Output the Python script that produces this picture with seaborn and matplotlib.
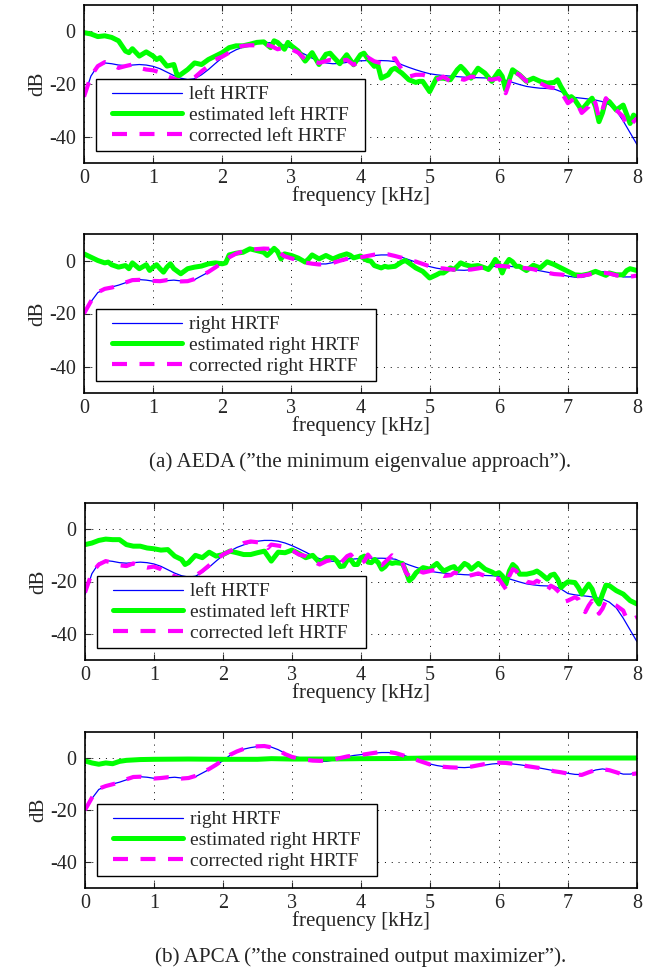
import numpy as np
import matplotlib
matplotlib.use("Agg")
import matplotlib.pyplot as plt
from matplotlib.lines import Line2D
from matplotlib.legend_handler import HandlerLine2D
import seaborn as sns

sns.set_style("ticks")
plt.rcParams["font.family"] = ["Liberation Serif", "DejaVu Serif"]
plt.rcParams["axes.unicode_minus"] = False

# ---------------------------------------------------------------- data
# true HRTFs sampled every 0.1 kHz (0 ... 8 kHz)
hrtf_freq = np.round(np.linspace(0, 8, 81), 1)

left_hrtf = [
    -25, -17, -13, -12, -12.3, -12.8, -13, -12.8, -12.6, -12.8,
    -13.3, -14.2, -15.5, -16.8, -17.8, -18.3, -18, -16.5, -14.5, -12.2,
    -10, -8.4, -7, -6, -5.2, -4.6, -4.3, -4.3, -4.6, -5.3,
    -6.3, -7.5, -8.8, -10.2, -11.3, -12, -12.3, -12.2, -11.8, -11.4,
    -11.2, -11.1, -11.1, -11.1, -11.2, -11.5, -12.7, -13.7, -14.6, -15.4,
    -16.1, -16.5, -16.8, -17.0, -17.2, -17.4, -17.5, -17.6, -17.7, -17.8,
    -18, -18.6, -19.4, -20.2, -20.9, -21.3, -21.6, -21.7, -21.9, -22.9,
    -24.6, -25.1, -25.4, -25.7, -26.1, -26.7, -27.9, -30.1, -34, -38.5,
    -43,
]

right_hrtf = [
    -20, -15.6, -12.1, -10.9, -10, -9.3, -8.4, -7.6, -7.2, -7.4,
    -7.8, -7.9, -7.6, -7.4, -7.7, -7.9, -7.2, -5.8, -4.4, -2.8,
    -1.0, 1.0, 2.4, 3.4, 4.0, 4.4, 4.6, 4.2, 3.2, 1.8,
    0.7, 0.2, -0.4, -0.9, -1.3, -1.3, -0.8, -0.2, 0.5, 1.0,
    1.3, 1.6, 1.9, 2.1, 2.1, 1.8, 1.2, 0.3, -0.6, -1.5,
    -2.3, -2.9, -3.3, -3.5, -3.6, -3.7, -3.5, -3.1, -2.7, -2.3,
    -2.1, -2.1, -2.3, -2.6, -3.0, -3.4, -3.9, -4.4, -4.9, -5.4,
    -5.9, -6.3, -6.4, -5.6, -4.6, -4.2, -4.6, -5.4, -6.2, -6.2,
    -5.8,
]

# AEDA, left ear
aeda_left_est_f = [0.0, 0.1, 0.2, 0.3, 0.4, 0.5, 0.6, 0.65, 0.7, 0.8, 0.9, 1.0, 1.05, 1.1, 1.2, 1.3, 1.35, 1.4, 1.5, 1.6,
                   1.7, 1.8, 1.9, 2.0, 2.1, 2.2, 2.3, 2.4, 2.5, 2.6, 2.7, 2.75, 2.8, 2.9, 2.95, 3.0, 3.1, 3.2, 3.3, 3.4,
                   3.5, 3.56, 3.6, 3.7, 3.8, 3.9, 4.0, 4.05, 4.1, 4.2, 4.25, 4.3, 4.4, 4.45, 4.5, 4.6, 4.7, 4.8, 4.85, 4.9,
                   5.0, 5.1, 5.2, 5.3, 5.4, 5.45, 5.5, 5.6, 5.7, 5.8, 5.9, 6.0, 6.05, 6.1, 6.2, 6.3, 6.4, 6.5, 6.6, 6.7,
                   6.8, 6.85, 6.9, 7.0, 7.05, 7.1, 7.2, 7.3, 7.35, 7.4, 7.45, 7.5, 7.55, 7.6, 7.7, 7.8, 7.9, 7.95, 8.0]
aeda_left_est = [-0.5, -1, -2, -1.7, -2.3, -3.6, -7.5, -8.1, -6.6, -9.4, -7.8, -9.4, -10.7, -10, -13.2, -12.6, -17, -16.4, -14.5, -12,
                 -12.6, -10.7, -9.4, -8.1, -6.2, -5.5, -5.5, -4.9, -4.2, -4, -6.2, -3.6, -4.2, -6.8, -4.2, -5.5, -7.5, -11.3, -8.1, -12.6,
                 -8.7, -8.3, -9.5, -12.3, -8.9, -12.7, -8.9, -8.3, -10.2, -13.3, -12.7, -17.8, -16.5, -14.6, -14, -15.9, -18.4, -19.4, -19, -19,
                 -22.9, -17.8, -17.8, -18.4, -14.6, -13.3, -14.6, -17.8, -14, -15.9, -19, -15.2, -17.1, -22.2, -14.6, -16.5, -19, -17.8, -19, -19.7,
                 -19.4, -18.4, -21, -25.4, -24.8, -26, -29.9, -26.7, -25.4, -28.6, -34.3, -31, -26, -26.7, -29.9, -28, -35, -31.8, -33]

aeda_left_cor_f = [0.0, 0.1, 0.2, 0.3, 0.4, 0.5, 0.6, 0.7, 0.8, 0.9, 1.0, 1.1, 1.2, 1.3, 1.4, 1.5, 1.6, 1.7, 1.8, 1.9,
                   2.0, 2.1, 2.2, 2.3, 2.4, 2.5, 2.6, 2.7, 2.8, 2.9, 3.0, 3.1, 3.2, 3.3, 3.4, 3.5, 3.56, 3.7, 3.8, 3.9,
                   4.0, 4.1, 4.2, 4.3, 4.4, 4.5, 4.55, 4.6, 4.7, 4.8, 4.9, 5.0, 5.1, 5.2, 5.3, 5.4, 5.5, 5.6, 5.7, 5.8,
                   5.9, 6.0, 6.05, 6.1, 6.15, 6.2, 6.3, 6.4, 6.5, 6.6, 6.7, 6.8, 6.9, 7.0, 7.1, 7.2, 7.3, 7.35, 7.4, 7.45,
                   7.5, 7.55, 7.6, 7.7, 7.8, 7.85, 7.9, 8.0]
aeda_left_cor = [-24.8, -17, -13.2, -11.7, -12.6, -13.9, -13.2, -12.6, -13.9, -14.5, -14.8, -15.6, -17, -18, -19, -19, -17.5, -15.2, -13.2, -10.7,
                 -9.6, -8.1, -6.2, -5.5, -5.3, -5.3, -4.9, -5.5, -6.8, -6.2, -6.8, -8.1, -10.7, -11.3, -12, -11.3, -10.8, -11.4, -10.8, -12.7,
                 -11.4, -9.8, -11.4, -12.1, -10.8, -10.2, -12.5, -14.6, -17.2, -16.5, -16.5, -17.2, -18.4, -17.2, -19, -17.8, -18.4, -17.2, -17.4, -17.8,
                 -18.4, -17.8, -19.7, -23.5, -19.7, -15.2, -16.5, -19, -19, -19.7, -21, -21.6, -22.9, -27.3, -25.4, -31, -28.6, -25.4, -27.3, -33,
                 -29.9, -25.4, -27.3, -29.9, -32.4, -36.2, -35.6, -33]

# AEDA, right ear
aeda_right_est_f = [0.0, 0.1, 0.2, 0.3, 0.35, 0.4, 0.5, 0.6, 0.65, 0.7, 0.8, 0.9, 0.95, 1.0, 1.05, 1.1, 1.15, 1.2, 1.25, 1.3,
                    1.4, 1.5, 1.6, 1.7, 1.8, 1.9, 2.0, 2.05, 2.1, 2.2, 2.3, 2.4, 2.5, 2.6, 2.65, 2.7, 2.75, 2.8, 2.85, 2.9,
                    3.0, 3.1, 3.2, 3.25, 3.3, 3.4, 3.5, 3.6, 3.7, 3.8, 3.85, 3.9, 4.0, 4.05, 4.1, 4.15, 4.2, 4.3, 4.35, 4.4,
                    4.5, 4.6, 4.65, 4.7, 4.8, 4.9, 5.0, 5.1, 5.15, 5.2, 5.3, 5.35, 5.4, 5.45, 5.5, 5.6, 5.7, 5.8, 5.85, 5.9,
                    5.95, 6.0, 6.05, 6.1, 6.15, 6.2, 6.25, 6.3, 6.4, 6.5, 6.6, 6.7, 6.8, 6.9, 7.0, 7.1, 7.2, 7.3, 7.4, 7.5,
                    7.55, 7.6, 7.7, 7.8, 7.85, 7.9, 8.0]
aeda_right_est = [2.5, 1.25, 0, -0.9, -0.6, -1.6, -2.5, -1.9, -3.1, -0.9, -3.1, -1.6, -3.75, -2.5, -1.6, -3.1, -4.4, -2.5, -1.25, -3.1,
                  -5, -3.1, -2.5, -2.1, -1.25, -0.9, -1.25, -0.9, 2.1, 2.75, 3.1, 4.4, 3.75, 3.1, 1.9, 3.1, 4.6, 3.4, 0.6, 2.5,
                  1.9, 0.9, -0.6, 0.6, 2.1, 0.6, 1.9, 0.6, 1.7, 2.5, 2, 1, 1.7, 0.8, 0, -0.25, -1.9, -2.8, -2.2, -2.5,
                  -2.2, -0.5, 0, -0.9, -2.8, -4.1, -6.6, -5.4, -4.7, -4.7, -2.8, -3.4, -2.2, -0.9, -1.5, -2.2, -1.9, -2.8, -3.4, -1.8,
                  0.4, -1.3, -4.7, -1.5, 0.4, -0.5, -2.2, -2.2, -3.8, -1.8, -2.8, -0.5, -1.5, -2.8, -4.1, -5.4, -5.6, -5.1, -4.1, -5.1,
                  -5.6, -4.7, -5.4, -5.4, -3.8, -3.1, -3.8]

aeda_right_cor = [
    -20, -15.4, -12.0, -10.7, -10.2, -9.5, -8.3, -7.4, -7.3, -7.6,
    -7.7, -7.8, -7.4, -7.5, -7.9, -7.8, -7.0, -5.7, -4.3, -2.6,
    -0.8, 1.2, 2.6, 3.5, 4.1, 4.3, 4.5, 4.4, 3.5, 1.6,
    0.8, 0.0, -0.8, -1.2, -1.5, -1.3, -0.9, -0.1, 0.6, 0.9,
    1.2, 1.7, 2.2, 2.4, 2.3, 1.7, 1.0, 0.1, -0.4, -1.3,
    -2.2, -2.8, -3.0, -3.4, -3.5, -3.6, -3.4, -3.0, -2.5, -2.2,
    -2.0, -2.2, -2.5, -2.7, -2.9, -3.3, -4.0, -4.6, -5.1, -5.3,
    -5.7, -6.0, -5.8, -5.3, -4.7, -4.5, -4.9, -5.6, -6.1, -6.1,
    -5.7,
]

# APCA, left ear
apca_left_est_f = [0.0, 0.1, 0.2, 0.3, 0.4, 0.5, 0.6, 0.7, 0.8, 0.9, 1.0, 1.1, 1.2, 1.3, 1.4, 1.45, 1.5, 1.6, 1.7, 1.8,
                   1.9, 2.0, 2.1, 2.2, 2.3, 2.4, 2.5, 2.6, 2.7, 2.8, 2.9, 3.0, 3.1, 3.2, 3.3, 3.4, 3.5, 3.6, 3.65, 3.7,
                   3.75, 3.8, 3.85, 3.9, 3.95, 4.0, 4.05, 4.1, 4.15, 4.2, 4.25, 4.3, 4.35, 4.4, 4.45, 4.5, 4.6, 4.65, 4.7, 4.75,
                   4.8, 4.9, 5.0, 5.05, 5.1, 5.15, 5.2, 5.3, 5.35, 5.4, 5.5, 5.55, 5.6, 5.7, 5.8, 5.9, 5.95, 6.0, 6.05, 6.1,
                   6.15, 6.2, 6.25, 6.3, 6.4, 6.5, 6.55, 6.6, 6.7, 6.75, 6.8, 6.85, 6.9, 6.95, 7.0, 7.1, 7.15, 7.2, 7.25, 7.3,
                   7.35, 7.4, 7.45, 7.5, 7.55, 7.6, 7.7, 7.8, 7.9, 8.0]
apca_left_est = [-5.9, -5.3, -4.3, -3.8, -4, -4, -5.9, -6.5, -6.5, -7.2, -7.5, -8, -7.8, -10.3, -11.6, -13.5, -12.8, -10, -10.9, -8.8,
                 -10.3, -9.7, -8.4, -9, -9.7, -9.7, -9, -8.4, -12.2, -8.8, -9, -8, -9.3, -10.9, -10, -12.8, -10.9, -10.9, -12.2, -14.3,
                 -14.1, -11.8, -11.6, -13.5, -13.5, -10.9, -10.3, -12.6, -12.8, -11.6, -12.8, -15.3, -14.3, -12.6, -13.1, -12.8, -13.1, -16, -19.7, -18.5,
                 -16.6, -14.7, -15.3, -14.1, -13.1, -14.7, -16, -14.7, -14.3, -16, -13.1, -13.8, -15.3, -13.1, -15.3, -16.4, -17.2, -16.6, -17.9, -21,
                 -16, -13.5, -14.7, -17.2, -17.2, -16.6, -16, -16.9, -19.1, -17.6, -17.2, -19.1, -22.3, -21, -20.1, -20.4, -22.3, -24.8, -22.9, -21,
                 -22.9, -26.7, -28.6, -24.8, -21.4, -21.6, -23.5, -24.8, -27.3, -28.6]

apca_left_cor_f = [0.0, 0.1, 0.2, 0.3, 0.4, 0.5, 0.6, 0.7, 0.8, 0.9, 1.0, 1.1, 1.2, 1.3, 1.4, 1.5, 1.6, 1.7, 1.8, 1.9,
                   2.0, 2.1, 2.2, 2.3, 2.4, 2.5, 2.6, 2.65, 2.7, 2.8, 2.9, 3.0, 3.1, 3.2, 3.3, 3.4, 3.5, 3.6, 3.7, 3.8,
                   3.85, 3.9, 4.0, 4.05, 4.1, 4.15, 4.2, 4.3, 4.4, 4.45, 4.52, 4.6, 4.65, 4.7, 4.8, 4.85, 4.9, 5.0, 5.1, 5.15,
                   5.2, 5.3, 5.35, 5.4, 5.5, 5.6, 5.7, 5.8, 5.9, 6.0, 6.05, 6.1, 6.15, 6.2, 6.25, 6.3, 6.4, 6.5, 6.55, 6.6,
                   6.7, 6.75, 6.8, 6.9, 6.95, 7.0, 7.1, 7.15, 7.2, 7.25, 7.3, 7.35, 7.4, 7.45, 7.5, 7.55, 7.6, 7.7, 7.8, 7.85,
                   7.9, 8.0]
apca_left_cor = [-24.2, -16.6, -13.5, -12.2, -12.8, -13.8, -14.1, -13.1, -14.1, -14.7, -14.3, -15.3, -17, -18, -19, -19, -17.8, -16, -13.8, -11.6,
                 -9.7, -8.4, -7.2, -5.3, -4.7, -5, -5.3, -7.2, -5.9, -6.3, -6.8, -8, -9.7, -10.3, -12.2, -13.5, -12.2, -11.6, -13.1, -10.3,
                 -9.7, -11.3, -13.1, -12.2, -9.7, -11.3, -12.8, -13.8, -11.3, -10, -11.5, -12.8, -16.6, -17.9, -17.2, -16, -16.6, -16, -15.3, -17.2,
                 -17.9, -17.6, -16.6, -16.9, -17.9, -17.6, -16.9, -17.9, -18.5, -19.1, -21, -22.9, -17.9, -15.3, -16, -17.9, -20.1, -20.6, -19.7, -20.4,
                 -23.5, -21.6, -22.3, -24.8, -27.7, -27.3, -26, -26.7, -29.8, -31.7, -29.2, -27.3, -29.8, -32.3, -30.4, -27.3, -27.9, -29.2, -31.1, -34.2,
                 -34.8, -33.6]

# APCA, right ear
apca_right_est_f = [0.0, 0.1, 0.2, 0.3, 0.4, 0.5, 0.6, 0.8, 1.0, 1.5, 2.0, 2.5, 2.7, 3.0, 3.5, 4.0, 4.5, 5.0, 6.0, 7.0, 8.0]
apca_right_est = [-1.1, -1.9, -2.4, -1.9, -2.2, -1.3, -0.9, -0.6, -0.5, -0.4, -0.5, -0.5, -0.25, -0.4, -0.4, -0.25, -0.2, 0, 0, 0, 0]

apca_right_cor = [
    -20, -15.3, -11.8, -10.8, -10.1, -9.4, -8.2, -7.3, -7.2, -7.6,
    -7.9, -7.7, -7.4, -7.6, -7.9, -7.7, -6.9, -5.6, -4.2, -2.6,
    -0.8, 1.2, 2.5, 3.5, 4.2, 4.5, 4.6, 4.1, 3.0, 1.5,
    0.4, -0.2, -0.7, -1.0, -1.1, -1.0, -0.6, 0.0, 0.6, 1.0,
    1.2, 1.6, 2.0, 2.3, 2.3, 1.9, 1.1, 0.2, -0.7, -1.6,
    -2.5, -3.1, -3.4, -3.6, -3.7, -3.6, -3.3, -2.8, -2.3, -2.0,
    -1.8, -1.9, -2.2, -2.6, -3.1, -3.5, -3.9, -4.5, -5.1, -5.5,
    -6.0, -6.4, -6.5, -5.5, -4.6, -4.3, -4.7, -5.5, -6.4, -6.3,
    -5.9,
]

x_ticks = [0, 1, 2, 3, 4, 5, 6, 7, 8]
y_ticks = [-40, -20, 0]
panels = [
    ("left HRTF", "estimated left HRTF", "corrected left HRTF",
     left_hrtf, aeda_left_est_f, aeda_left_est, hrtf_freq, aeda_left_cor_f, aeda_left_cor),
    ("right HRTF", "estimated right HRTF", "corrected right HRTF",
     right_hrtf, aeda_right_est_f, aeda_right_est, hrtf_freq, hrtf_freq, aeda_right_cor),
    ("left HRTF", "estimated left HRTF", "corrected left HRTF",
     left_hrtf, apca_left_est_f, apca_left_est, hrtf_freq, apca_left_cor_f, apca_left_cor),
    ("right HRTF", "estimated right HRTF", "corrected right HRTF",
     right_hrtf, apca_right_est_f, apca_right_est, hrtf_freq, hrtf_freq, apca_right_cor),
]
captions = ["(a) AEDA (\u201dthe minimum eigenvalue approach\u201d).",
            "(b) APCA (\u201dthe constrained output maximizer\u201d)."]


class LeadInLine(HandlerLine2D):
    """Legend line sample that starts a little to the right of the box edge."""

    def __init__(self, lead, **kw):
        super().__init__(**kw)
        self.lead = lead

    def get_xdata(self, legend, xdescent, ydescent, width, height, fontsize):
        x0 = -xdescent + self.lead
        x1 = -xdescent + width
        return [x0, x1], [0.5 * (x0 + x1)]


# ---------------------------------------------------------------- figure
W, H = 662, 977
fig = plt.figure(figsize=(W / 100, H / 100), dpi=100)

# axes boxes in pixels: (left, top, right, bottom)
boxes = [(84, 5, 637, 163), (84, 234, 637, 393), (85, 503, 637, 660), (85, 732, 637, 888)]
caption_y = [462, 957]

BLUE, GREEN, MAGENTA = "#0000ff", "#00ff00", "#ff00ff"
TICK_FS, LEG_FS, LAB_FS, CAP_FS = 14.5, 14, 15, 15.2

for (l, t, r, b), p in zip(boxes, panels):
    lab_t, lab_e, lab_c, true_v, est_f, est_v, true_f, cor_f, cor_v = p
    ax = fig.add_axes([l / W, 1 - b / H, (r - l) / W, (b - t) / H])
    sns.lineplot(x=true_f, y=true_v, ax=ax, color=BLUE, lw=0.9, label=lab_t + "  ",
                 estimator=None, sort=False)
    sns.lineplot(x=est_f, y=est_v, ax=ax, color=GREEN, lw=3.6, label=lab_e + "  ",
                 estimator=None, sort=False)
    sns.lineplot(x=cor_f, y=cor_v, ax=ax, color=MAGENTA, lw=3.0, label=lab_c + "  ",
                 estimator=None, sort=False, linestyle=(0, (3.6, 3.0)))
    ax.set_xlim(0, 8)
    ax.set_ylim(-50, 10)
    ax.set_xticks(x_ticks)
    ax.set_yticks(y_ticks)
    ax.set_xticklabels([str(v) for v in x_ticks])
    ax.set_yticklabels([str(v) for v in y_ticks])
    ax.grid(True, color="black", linestyle=(0, (1, 6)), linewidth=0.7)
    ax.tick_params(direction="in", top=True, right=True, length=4, width=0.8,
                   labelsize=TICK_FS)
    ax.tick_params(axis="x", pad=4)
    ax.tick_params(axis="y", pad=6)
    for s in ax.spines.values():
        s.set_linewidth(1.2)
        s.set_color("black")
    ax.set_xlabel("frequency [kHz]", fontsize=LAB_FS, labelpad=-1)
    ax.set_ylabel("dB", fontsize=LAB_FS, labelpad=1)
    leg = ax.legend(loc="lower left", fontsize=LEG_FS, frameon=True, fancybox=False,
                    edgecolor="black", framealpha=1, handlelength=4.1,
                    handletextpad=0.35, labelspacing=0.15, borderpad=0.35,
                    borderaxespad=0.6, handler_map={Line2D: LeadInLine(7.2)})
    leg.get_frame().set_linewidth(1.0)

for cap, cy in zip(captions, caption_y):
    fig.text(((84 + 637) / 2) / W, 1 - cy / H, cap, ha="center", va="center",
             fontsize=CAP_FS)

fig.savefig("out.png", dpi=100)
